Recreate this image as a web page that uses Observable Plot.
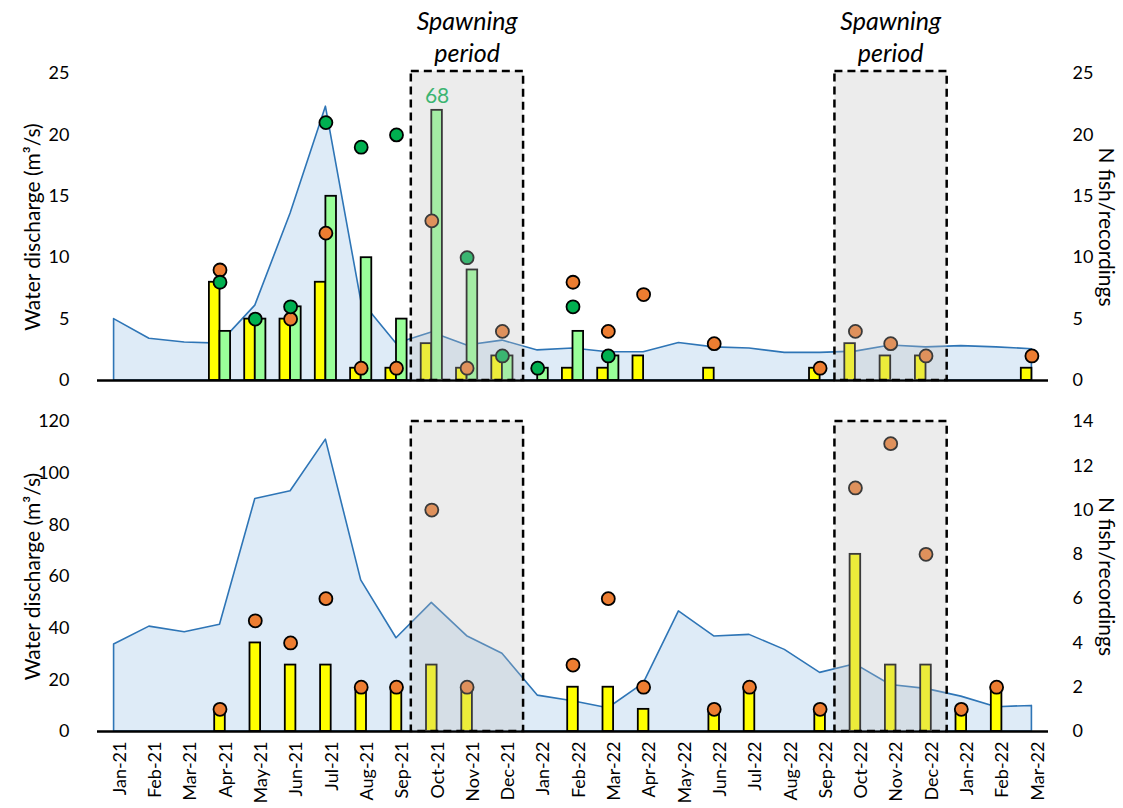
<!DOCTYPE html>
<html>
<head>
<meta charset="utf-8">
<script src="https://cdn.jsdelivr.net/npm/d3@7"></script>
<script src="https://cdn.jsdelivr.net/npm/@observablehq/plot@0.6"></script>
<style>
  html, body { margin: 0; padding: 0; background: white; }
  #chart svg { display: block; }
</style>
</head>
<body>
<div id="chart"></div>
<script>
// ---------- data ----------
const months = ["Jan-21","Feb-21","Mar-21","Apr-21","May-21","Jun-21","Jul-21","Aug-21","Sep-21","Oct-21","Nov-21","Dec-21",
  "Jan-22","Feb-22","Mar-22","Apr-22","May-22","Jun-22","Jul-22","Aug-22","Sep-22","Oct-22","Nov-22","Dec-22",
  "Jan-22","Feb-22","Mar-22"];

// Top panel (site 1)
const topDischarge = [5.0,3.4,3.1,3.0,6.1,13.6,22.3,6.5,3.0,3.9,2.85,3.25,2.45,2.6,2.3,2.3,3.05,2.7,2.6,2.25,2.25,2.35,2.85,2.7,2.8,2.7,2.55];
const topYellowBars = [null,null,null,8,5,5,8,1,1,3,1,2,null,1,1,2,null,1,null,null,1,3,2,2,null,null,1];
const topGreenBars  = [null,null,null,4,5,6,15,10,5,22,9,2,1,4,2,null,null,null,null,null,null,null,null,null,null,null,null];
const topOrangeDots = [null,null,null,9,null,5,12,1,1,13,1,4,null,8,4,7,null,3,null,null,1,4,3,2,null,null,2];
const topGreenDots  = [null,null,null,8,5,6,21,19,20,68,10,2,1,6,2,null,null,null,null,null,null,null,null,null,null,null,null];

// Bottom panel (site 2)
const bottomDischarge = [33.7,40.6,38.4,41.3,90,93,113,58.5,36.1,49.8,36.9,30.1,13.9,11.7,9.0,18.5,46.5,36.8,37.4,31.6,22.7,26,18,16.5,13.5,9.4,9.9];
const bottomYellowBars = [null,null,null,1,4,3,3,2,2,3,2,null,null,2,2,1,null,1,2,null,1,8,3,3,1,2,null];
const bottomOrangeDots = [null,null,null,1,5,4,6,2,2,10,2,null,null,3,6,2,null,1,2,null,1,11,13,8,1,2,null];

// spawning periods (month indices)
const spawnStart = [9, 21];
const spawnEnd   = [11, 23];

// axis ticks
const topTicks = [0,5,10,15,20,25];
const bottomLeftTicks = [0,20,40,60,80,100,120];
const bottomRightTicks = [0,2,4,6,8,10,12,14];

// ---------- helpers ----------
const idx = d3.range(months.length);
const series = arr => idx.filter(i => arr[i] != null).map(i => ({i, v: arr[i]}));
const spawns = spawnStart.map((s, k) => ({start: s, end: spawnEnd[k]}));

const FONT = "Lato, Carlito, 'Open Sans', sans-serif";
const C = {
  areaFill: "#deebf7", areaLine: "#2e75b6",
  yellow: "#ffff00", greenBar: "#99ff99",
  orange: "#ed7d31", greenDot: "#00b050"
};
const xScale = {type: "linear", domain: [-0.47, months.length - 1 + 0.47]};

const yLabels = () => [
  Plot.text(["Water discharge (m³/s)"], {frameAnchor: "left", text: d => d, rotate: -90, textAnchor: "middle", dx: -64, fontSize: 21}),
  Plot.text(["N fish/recordings"], {frameAnchor: "right", text: d => d, rotate: 90, textAnchor: "middle", dx: 57, fontSize: 21})
];

// ---------- top panel ----------
const topMax = 25;
const topChart = Plot.plot({
  width: 1123, height: 395,
  marginLeft: 97, marginRight: 75, marginTop: 73, marginBottom: 15,
  x: {...xScale, axis: null},
  y: {domain: [0, topMax]},
  style: {fontFamily: FONT, fontSize: "18px", background: "white", overflow: "visible", color: "black"},
  marks: [
    Plot.areaY(idx.map(i => ({i, q: topDischarge[i]})), {x: "i", y: "q", fill: C.areaFill, stroke: C.areaLine, strokeWidth: 1.6}),
    Plot.rect(series(topYellowBars), {x1: d => d.i - 0.3, x2: d => d.i, y1: 0, y2: "v", fill: C.yellow, stroke: "black", strokeWidth: 1.8}),
    Plot.rect(series(topGreenBars), {x1: d => d.i, x2: d => d.i + 0.3, y1: 0, y2: "v", fill: C.greenBar, stroke: "black", strokeWidth: 1.8}),
    Plot.dot(series(topOrangeDots).filter(d => d.v <= topMax), {x: "i", y: "v", r: 6.5, fill: C.orange, stroke: "black", strokeWidth: 1.8}),
    Plot.dot(series(topGreenDots).filter(d => d.v <= topMax), {x: "i", y: "v", r: 6.5, fill: C.greenDot, stroke: "black", strokeWidth: 1.8}),
    Plot.text(series(topGreenDots).filter(d => d.v > topMax), {x: d => d.i + 0.15, frameAnchor: "top", dy: 15, text: d => String(d.v), fill: C.greenDot, fontSize: 21}),
    Plot.ruleY([0], {stroke: "black", strokeWidth: 2.5}),
    Plot.rect(spawns, {x1: d => d.start - 0.58, x2: d => d.end + 0.6, y1: 0, y2: topMax, insetTop: -2,
      fill: "#bfbfbf", fillOpacity: 0.3, stroke: "black", strokeWidth: 2.5, strokeDasharray: "8,5"}),
    Plot.text(spawns, {x: d => (d.start + d.end) / 2, frameAnchor: "top", text: () => "Spawning\nperiod",
      lineHeight: 1.25, lineAnchor: "bottom", dy: -12, fontStyle: "italic", fontSize: 25}),
    Plot.axisY(topTicks, {anchor: "left", tickSize: 0, tickPadding: 28, label: null}),
    Plot.axisY(topTicks, {anchor: "right", tickSize: 0, tickPadding: 24, label: null}),
    ...yLabels()
  ]
});

// ---------- bottom panel ----------
const leftMax = 120, rightMax = 14, k = leftMax / rightMax;
const bottomChart = Plot.plot({
  width: 1123, height: 413,
  marginLeft: 97, marginRight: 75, marginTop: 26, marginBottom: 77,
  x: xScale,
  y: {domain: [0, leftMax]},
  style: {fontFamily: FONT, fontSize: "18px", background: "white", overflow: "visible", color: "black"},
  marks: [
    Plot.areaY(idx.map(i => ({i, q: bottomDischarge[i]})), {x: "i", y: "q", fill: C.areaFill, stroke: C.areaLine, strokeWidth: 1.6}),
    Plot.rect(series(bottomYellowBars), {x1: d => d.i - 0.15, x2: d => d.i + 0.15, y1: 0, y2: d => d.v * k, fill: C.yellow, stroke: "black", strokeWidth: 1.8}),
    Plot.dot(series(bottomOrangeDots), {x: "i", y: d => d.v * k, r: 6.5, fill: C.orange, stroke: "black", strokeWidth: 1.8}),
    Plot.ruleY([0], {stroke: "black", strokeWidth: 2.5}),
    Plot.rect(spawns, {x1: d => d.start - 0.58, x2: d => d.end + 0.6, y1: 0, y2: leftMax,
      fill: "#bfbfbf", fillOpacity: 0.3, stroke: "black", strokeWidth: 2.5, strokeDasharray: "8,5"}),
    Plot.axisY(bottomLeftTicks, {anchor: "left", tickSize: 0, tickPadding: 28, label: null}),
    Plot.axisY(bottomRightTicks.map(v => v * k), {anchor: "right", tickSize: 0, tickPadding: 24, label: null, tickFormat: v => String(Math.round(v / k))}),
    Plot.axisX(idx, {anchor: "bottom", tickSize: 0, tickPadding: 10, tickRotate: -90, tickFormat: i => months[i], label: null, fontSize: 18, dx: 6}),
    ...yLabels()
  ]
});

document.getElementById("chart").append(topChart, bottomChart);
</script>
</body>
</html>
